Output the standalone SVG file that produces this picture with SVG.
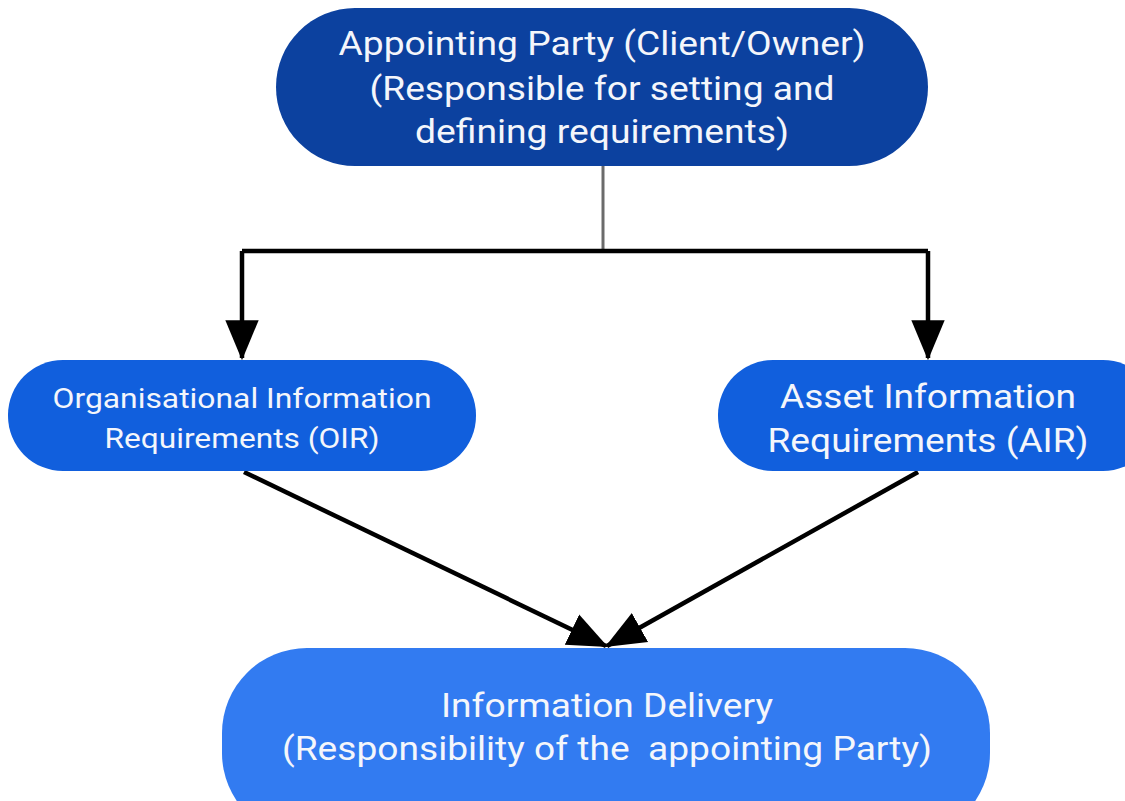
<svg xmlns="http://www.w3.org/2000/svg" width="1125" height="801" viewBox="0 0 1125 801">
  <style>
    .lbl { font-family: Roboto, "Liberation Sans", sans-serif; fill: #f4f6fb; text-anchor: middle; white-space: pre; }
    .wire { fill: none; stroke: #000; stroke-width: 4.5; }
  </style>
  <defs>
    <marker id="head" markerUnits="userSpaceOnUse" markerWidth="40" markerHeight="40" viewBox="0 0 36 30" refX="34" refY="15" orient="auto">
      <path d="M0,0 L36,15 L0,30 Z" fill="#000"/>
    </marker>
  </defs>
  <rect width="1125" height="801" fill="#fff"/>

  <g id="connectors">
    <line x1="603" y1="166" x2="603" y2="251" stroke="#6b6b6b" stroke-width="3"/>
    <path class="wire" d="M242,251 H928"/>
    <path class="wire" d="M242,251 V358" marker-end="url(#head)"/>
    <path class="wire" d="M928,251 V358" marker-end="url(#head)"/>
    <path class="wire" d="M244,472 L606,646" marker-end="url(#head)"/>
    <path class="wire" d="M918,472 L607,646" marker-end="url(#head)"/>
  </g>

  <g id="appointing-party">
    <rect x="276" y="8" width="652" height="158" rx="79" ry="79" fill="#0c419f"/>
    <text class="lbl" x="602" y="55" font-size="34" textLength="527" lengthAdjust="spacingAndGlyphs">Appointing Party (Client/Owner)</text>
    <text class="lbl" x="602" y="100" font-size="34" textLength="465" lengthAdjust="spacingAndGlyphs">(Responsible for setting and</text>
    <text class="lbl" x="602" y="143" font-size="34" textLength="374" lengthAdjust="spacingAndGlyphs">defining requirements)</text>
  </g>

  <g id="oir">
    <rect x="8" y="360" width="468" height="111" rx="55" ry="55" fill="#115fdd"/>
    <text class="lbl" x="242" y="408" font-size="27" textLength="379" lengthAdjust="spacingAndGlyphs">Organisational Information</text>
    <text class="lbl" x="242" y="448" font-size="27" textLength="275" lengthAdjust="spacingAndGlyphs">Requirements (OIR)</text>
  </g>

  <g id="air">
    <rect x="718" y="360" width="440" height="111" rx="55" ry="55" fill="#115fdd"/>
    <text class="lbl" x="928" y="408" font-size="33" textLength="296" lengthAdjust="spacingAndGlyphs">Asset Information</text>
    <text class="lbl" x="928" y="452" font-size="33" textLength="321" lengthAdjust="spacingAndGlyphs">Requirements (AIR)</text>
  </g>

  <g id="information-delivery">
    <rect x="222" y="648" width="768" height="190" rx="85" ry="85" fill="#327bf1"/>
    <text class="lbl" x="607" y="717" font-size="34" textLength="332" lengthAdjust="spacingAndGlyphs">Information Delivery</text>
    <text class="lbl" x="607" y="760" font-size="34" textLength="650" lengthAdjust="spacingAndGlyphs">(Responsibility of the  appointing Party)</text>
  </g>
</svg>
